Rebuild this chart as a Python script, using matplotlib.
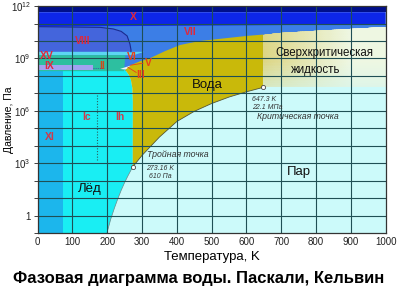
import numpy as np
import matplotlib
matplotlib.use("Agg")
import matplotlib.pyplot as plt
from matplotlib.patches import Polygon
from matplotlib.colors import to_rgba

plt.rcParams["font.family"] = ["Liberation Sans", "DejaVu Sans"]
plt.rcParams["mathtext.fontset"] = "custom"
plt.rcParams["mathtext.rm"] = "Liberation Sans"

# phase boundaries: T in K, log10(P / Pa)
subl_T = [199, 210, 220, 230, 240, 250, 260, 273.16]
subl_lgP = [-1.0, -0.2, 0.4, 0.95, 1.45, 1.9, 2.3, 2.79]
vap_T = [273.16, 300, 350, 400, 450, 500, 550, 600, 647.3]
vap_lgP = [2.79, 3.45, 4.5, 5.39, 5.97, 6.42, 6.79, 7.09, 7.34]
melt_T = [273.16, 273.5, 272, 268, 262, 255, 251]
melt_lgP = [2.79, 6.5, 7.3, 7.75, 8.05, 8.25, 8.33]
vii_T = [251, 258, 266, 274, 294, 317, 366, 409, 466, 601, 696, 791, 1000]
vii_lgP = [8.33, 8.45, 8.58, 8.67, 8.84, 8.96, 9.42, 9.77, 10.0, 10.29, 10.45, 10.6, 10.79]
viii_T = [268, 268, 265, 257, 240, 217, 180, 0]
viii_lgP = [9.38, 9.5, 9.83, 10.29, 10.55, 10.69, 10.78, 10.82]
xband_T = [0, 1000]
xband_lgP = [10.82, 10.95]

ice_top = 8.27
xi_Tmax = 72
vi_band = (9.19, 9.38)
vi_Tmax = 276
ii_band = (8.27, 9.19)
ix_band = (8.33, 8.6)
ix_Tmax = 160
v_T = [237, 271, 266]
v_lgP = [8.4, 8.62, 8.33]
ic_ih_T = 171
ic_ih_lgP = (3.2, 6.9)

triple = (273.16, 611.0)
critical = (647.3, 22.1e6)

# phase names: (text, T, log10 P, colour)
phase_labels = [
    ("X", 274, 11.39, "#e0283c"),
    ("VII", 438, 10.52, "#e0283c"),
    ("VIII", 130, 10.0, "#e0283c"),
    ("XV", 27, 9.13, "#e0283c"),
    ("IX", 32, 8.55, "#e0283c"),
    ("II", 185, 8.55, "#d04a1a"),
    ("VI", 271, 9.08, "#e8401a"),
    ("V", 317, 8.73, "#e8401a"),
    ("III", 297, 8.03, "#e8401a"),
    ("Ic", 139, 5.66, "#d03a4a"),
    ("Ih", 236, 5.66, "#d03a4a"),
    ("XI", 35, 4.5, "#d03a4a"),
]

c_vap = "#ccfafa"
c_ice = "#19eef3"
c_xi = "#1cb6ec"
c_liq = "#c9b90a"
c_vii = "#3c7ee6"
c_viii = "#4465dc"
c_vi = "#5cd6f2"
c_ii = "#2dbfa0"
c_ix = "#a2a2f0"
c_x = "#0d26e8"
c_top = "#000f8a"


def P(lg):
    return 10.0 ** np.asarray(lg, dtype=float)


def poly(ax, T, lg, color, z):
    xy = np.column_stack([T, P(lg)])
    p = Polygon(xy, closed=True, facecolor=color, edgecolor="none", zorder=z)
    ax.add_patch(p)
    return p


fig = plt.figure(figsize=(3.98, 2.99), dpi=100)
ax = fig.add_axes([0.0947, 0.2207, 0.8744, 0.759])
ax.set_yscale("log")
ax.set_xlim(0, 1000)
ax.set_ylim(1e-1, 1e12)
ax.set_facecolor(c_vap)

# ice I region
ice_T = [0] + subl_T + melt_T[1:] + [0]
ice_lg = [-1] + subl_lgP + melt_lgP[1:] + [ice_top]
poly(ax, ice_T, ice_lg, c_ice, 1)
poly(ax, [0, xi_Tmax, xi_Tmax, 0], [-1, -1, ice_top, ice_top], c_xi, 1.1)

# high pressure ices
poly(ax, [0, 1000, 1000, 0], [ice_top, ice_top, 11, 11], c_vii, 0.9)
poly(ax, [0] + viii_T, [viii_lgP[0]] + viii_lgP, c_viii, 1.2)
poly(ax, [0, vi_Tmax, vi_Tmax + 30, 0], [vi_band[0], vi_band[0], vi_band[1], vi_band[1]], c_vi, 1.3)
poly(ax, [0, 248, 252, 0], [ii_band[0], ii_band[0], ii_band[1], ii_band[1]], c_ii, 1.4)
poly(ax, [0, ix_Tmax, ix_Tmax, 0], [ix_band[0], ix_band[0], ix_band[1], ix_band[1]], c_ix, 1.5)
ax.plot([ix_Tmax, 190], P([np.mean(ix_band)] * 2), ls=(0, (1, 1.2)), color="#4050a0", lw=0.7, zorder=1.6)
poly(ax, v_T, v_lgP, "#eef8f8", 1.6)

# liquid water
crit_top = np.interp(critical[0], vii_T, vii_lgP)
lo = [t for t in vii_T if t <= critical[0]]
liq_T = vap_T + [critical[0]] + lo[::-1] + melt_T[::-1][1:]
liq_lg = vap_lgP + [crit_top] + [vii_lgP[vii_T.index(t)] for t in lo[::-1]] + melt_lgP[::-1][1:]
poly(ax, liq_T, liq_lg, c_liq, 2)

# supercritical fluid, faded gradient
hi = [t for t in vii_T if t > critical[0]]
sc_T = [critical[0], 1000] + hi[::-1] + [critical[0]]
sc_lg = [vap_lgP[-1], vap_lgP[-1]] + [vii_lgP[vii_T.index(t)] for t in hi[::-1]] + [crit_top]
sc_patch = poly(ax, sc_T, sc_lg, "none", 2)
gx = np.linspace(critical[0], 1000, 60)
gy = np.logspace(vap_lgP[-1], 11, 40)
fx = (0.5 * (gx[:-1] + gx[1:]) - critical[0]) / (1000 - critical[0])
fy = np.clip((np.log10(0.5 * (gy[:-1] + gy[1:])) - vap_lgP[-1]) / 1.6, 0, 1)
a = np.array(to_rgba("#dcd584"))
b = np.array(to_rgba("#eef7e2"))
c = np.array(to_rgba("#d2f4ec"))
cols = []
for yy in fy:
    for xx in fx:
        top = a + (b - a) * min(1.0, xx * 1.4)
        cols.append(c + (top - c) * (0.35 + 0.65 * yy))
mesh = ax.pcolormesh(gx, gy, np.zeros((len(gy) - 1, len(gx) - 1)), zorder=2)
mesh.set_array(None)
mesh.set_facecolor(cols)
mesh.set_edgecolor("face")
mesh.set_clip_path(sc_patch)

# ice X and top band
poly(ax, [0, 1000, 1000, 0], [xband_lgP[0], xband_lgP[1], 11.65, 11.65], c_x, 3)
poly(ax, [0, 1000, 1000, 0], [11.65, 11.65, 12, 12], c_top, 3)

# boundary lines
ax.plot(viii_T, P(viii_lgP), color="#1a2a90", lw=0.8, zorder=3.5)
ax.plot(subl_T, P(subl_lgP), color="#6a8a8a", lw=0.5, zorder=3.5)
ax.plot(vap_T, P(vap_lgP), color="#555533", lw=0.6, zorder=3.5)
ax.plot([ic_ih_T] * 2, P(ic_ih_lgP), ls=(0, (1, 1.5)), color="#2a6060", lw=0.8, zorder=3.5)

# grid on top of colour fields
for t in range(100, 1000, 100):
    ax.axvline(t, color="#1f4f55", lw=0.8, zorder=4)
for k in range(0, 12):
    ax.axhline(10.0 ** k, color="#1f4f55", lw=0.8, zorder=4)

ax.plot(*critical, "o", ms=3, mfc="white", mec="#444444", mew=0.6, zorder=5)
ax.plot(*triple, "o", ms=3, mfc="white", mec="#444444", mew=0.6, zorder=5)

for txt, t, lg, col in phase_labels:
    ax.text(t, 10 ** lg, txt, color=col, fontsize=7.5, fontweight="bold",
            ha="center", va="center", zorder=6)
ax.plot([303, 266], P([8.73, 8.61]), color="#e8401a", lw=0.6, zorder=5)
ax.plot([283, 259], P([8.2, 8.5]), color="#e8401a", lw=0.6, zorder=5)

big = dict(fontsize=9.5, color="#111111", ha="center", va="center", zorder=6)
ax.text(487, 10 ** 7.46, "Вода", **big)
ax.text(150, 10 ** 1.5, "Лёд", **big)
ax.text(751, 10 ** 2.49, "Пар", **big)
ax.text(823, 10 ** 9.32, "Сверхкритическая", fontsize=8.3, color="#111111",
        ha="center", va="center", zorder=6)
ax.text(800, 10 ** 8.36, "жидкость", fontsize=8.3, color="#111111",
        ha="center", va="center", zorder=6)

small = dict(color="#333333", style="italic", zorder=6, va="center")
ax.text(616, 10 ** 6.65, "647.3 K", fontsize=5, **small)
ax.text(616, 10 ** 6.2, "22.1 МПа", fontsize=5, **small)
ax.text(748, 10 ** 5.66, "Критическая точка", fontsize=6.3, ha="center", **small)
ax.text(314, 10 ** 3.47, "Тройная точка", fontsize=6.3, **small)
ax.text(311, 10 ** 2.72, "273.16 K", fontsize=5, **small)
ax.text(320, 10 ** 2.25, "610 Па", fontsize=5, **small)

ax.set_xticks(range(0, 1001, 100))
ax.set_yticks(10.0 ** np.arange(-1, 13))
ylabels = {0: "1", 3: r"$10^3$", 6: r"$10^6$", 9: r"$10^9$", 12: r"$10^{12}$"}
ax.set_yticklabels([ylabels.get(k, "") for k in range(-1, 13)])
ax.yaxis.set_minor_locator(matplotlib.ticker.NullLocator())
ax.tick_params(axis="x", length=0, pad=3, labelsize=7, colors="#222222")
ax.tick_params(axis="y", length=3, width=0.6, pad=2, labelsize=7, colors="#222222")
for s in ax.spines.values():
    s.set_color("#333333")
    s.set_linewidth(0.9)
    s.set_zorder(7)

ax.set_xlabel("Температура, K", fontsize=9.5, labelpad=3)
ax.set_ylabel("Давление, Па", fontsize=7.5)
ax.yaxis.set_label_coords(-0.068, 0.5)
fig.text(0.5, 0.07, "Фазовая диаграмма воды. Паскали, Кельвин",
         fontsize=12, fontweight="bold", ha="center", va="center")

fig.savefig("out.png", dpi=100)
